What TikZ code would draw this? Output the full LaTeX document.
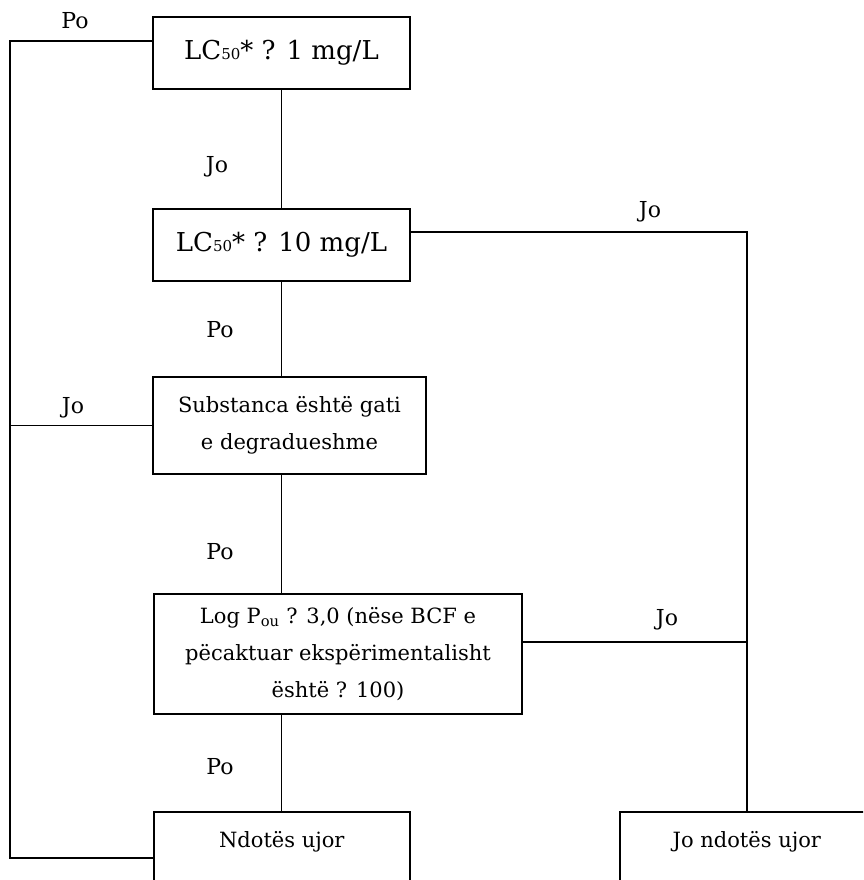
\documentclass[tikz,border=0pt]{standalone}
\usepackage{fontspec}
\setmainfont{DejaVu Serif}
\usetikzlibrary{calc}
\begin{document}
\begin{tikzpicture}[x=1pt,y=-1pt,
  box/.style={draw, line width=1.6pt, rectangle, inner sep=0pt, align=center,
    font=\fontsize{21}{37}\selectfont},
  big/.style={font=\fontsize{26}{30}\selectfont},
  lbl/.style={font=\fontsize{22}{22}\selectfont, inner sep=0pt},
  conn/.style={line width=1.6pt}]
\useasboundingbox (0,0) rectangle (863,880);
\clip (0,0) rectangle (863,880);
\fill[white] (0,0) rectangle (863,880);
\node[box, big, minimum width=257pt, minimum height=72pt] (b1) at (281.5,53)
  {LC{\fontsize{15}{15}\selectfont 50}* ? 1 mg/L};
\node[box, big, minimum width=257pt, minimum height=72pt] (b2) at (281.5,245)
  {LC{\fontsize{15}{15}\selectfont 50}* ? 10 mg/L};
\node[box, minimum width=273pt, minimum height=97pt] (b3) at (289.5,425.5)
  {Substanca është gati\\e degradueshme};
\node[box, minimum width=368pt, minimum height=120pt] (b4) at (338,654)
  {Log P\textsubscript{ou} ? 3,0 (nëse BCF e\\pëcaktuar ekspërimentalisht\\është ? 100)};
\node[box, anchor=north west, minimum width=256pt, text height=36pt, text depth=36pt] (b5) at (153,811)
  {Ndotës ujor};
\node[box, anchor=north west, minimum width=254pt, text height=36pt, text depth=36pt] (b6) at (619,811)
  {Jo ndotës ujor};
\coordinate (lft) at (10,858);
\coordinate (b4r) at ($(b4.east)+(0,-12)$);
\draw[conn] (b1.south) -- (b1.south |- b2.north);
\draw[conn] (b2.south) -- (b2.south |- b3.north);
\draw[conn] (b2.south |- b3.south) -- (b2.south |- b4.north);
\draw[conn] (b2.south |- b4.south) -- (b2.south |- b5.north);
\draw[conn] ($(b1.north west)+(0,25)$) -| (lft) -- ($(b5.north west)+(0,47)$);
\draw[conn] (b3.west) -- (b3.west -| lft);
\draw[conn] ($(b2.north east)+(0,24)$) -| (b6.north);
\draw[conn] (b4r) -- (b4r -| b6.north);
\node[lbl] (p1) at (75,21) {Po};
\node[lbl] (j1) at (217,167) {Jo};
\node[lbl] (p2) at (220,330) {Po};
\node[lbl] (j2) at (73,408) {Jo};
\node[lbl] (p3) at (220,552) {Po};
\node[lbl] (p4) at (220,767) {Po};
\node[lbl] (j3) at (650,212) {Jo};
\node[lbl] (j4) at (667,620) {Jo};
\end{tikzpicture}
\end{document}
